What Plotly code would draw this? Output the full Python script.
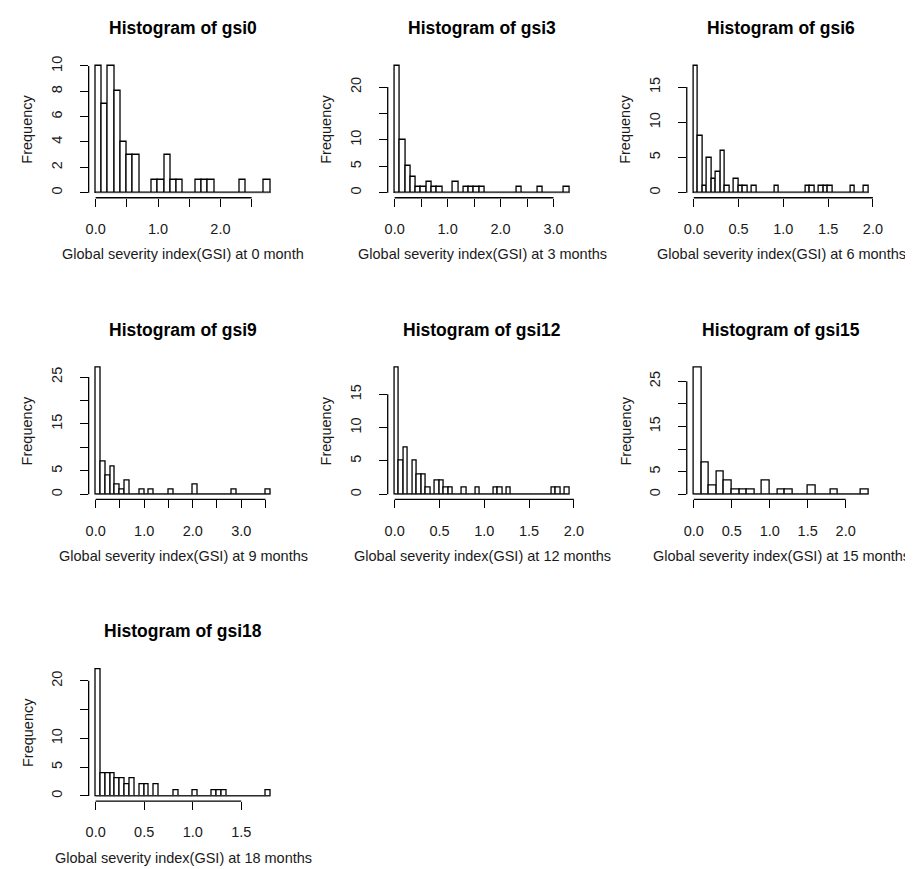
import plotly.graph_objects as go

# ---------------- data ----------------
names = ["gsi0", "gsi3", "gsi6", "gsi9", "gsi12", "gsi15", "gsi18"]
xlabels = [
    "Global severity index(GSI) at 0 month",
    "Global severity index(GSI) at 3 months",
    "Global severity index(GSI) at 6 months",
    "Global severity index(GSI) at 9 months",
    "Global severity index(GSI) at 12 months",
    "Global severity index(GSI) at 15 months",
    "Global severity index(GSI) at 18 months",
]
bin_widths = [0.1, 0.1, 0.05, 0.1, 0.05, 0.1, 0.05]

gsi0_counts = [10, 7, 10, 8, 4, 3, 3, 0, 0, 1, 1, 3, 1, 1, 0, 0, 1, 1, 1, 0,
               0, 0, 0, 1, 0, 0, 0, 1]
gsi3_counts = [24, 10, 5, 3, 1, 1, 2, 1, 1, 0, 0, 2, 0, 1, 1, 1, 1, 0, 0, 0,
               0, 0, 0, 1, 0, 0, 0, 1, 0, 0, 0, 0, 1]
gsi6_counts = [18, 8, 1, 5, 2, 3, 6, 1, 0, 2, 1, 1, 0, 1, 0, 0, 0, 0, 1, 0,
               0, 0, 0, 0, 0, 1, 1, 0, 1, 1, 1, 0, 0, 0, 0, 1, 0, 0, 1]
gsi9_counts = [27, 7, 4, 6, 2, 1, 3, 0, 0, 1, 0, 1, 0, 0, 0, 1, 0, 0, 0, 0,
               2, 0, 0, 0, 0, 0, 0, 0, 1, 0, 0, 0, 0, 0, 0, 1]
gsi12_counts = [19, 5, 7, 0, 5, 3, 3, 1, 0, 2, 2, 1, 1, 0, 0, 1, 0, 0, 1, 0,
                0, 0, 1, 1, 0, 1, 0, 0, 0, 0, 0, 0, 0, 0, 0, 1, 1, 0, 1]
gsi15_counts = [28, 7, 2, 5, 3, 1, 1, 1, 0, 3, 0, 1, 1, 0, 0, 2, 0, 0, 1, 0,
                0, 0, 1]
gsi18_counts = [22, 4, 4, 4, 3, 3, 2, 3, 0, 2, 2, 0, 2, 0, 0, 0, 1, 0, 0, 0,
                1, 0, 0, 0, 1, 1, 1, 0, 0, 0, 0, 0, 0, 0, 0, 1]
all_counts = [gsi0_counts, gsi3_counts, gsi6_counts, gsi9_counts,
              gsi12_counts, gsi15_counts, gsi18_counts]

x_tickvals = [
    [0, 0.5, 1.0, 1.5, 2.0, 2.5],
    [0, 0.5, 1.0, 1.5, 2.0, 2.5, 3.0],
    [0, 0.5, 1.0, 1.5, 2.0],
    [0, 0.5, 1.0, 1.5, 2.0, 2.5, 3.0, 3.5],
    [0, 0.5, 1.0, 1.5, 2.0],
    [0, 0.5, 1.0, 1.5, 2.0],
    [0, 0.5, 1.0, 1.5],
]
x_ticktext = [
    ["0.0", "", "1.0", "", "2.0", ""],
    ["0.0", "", "1.0", "", "2.0", "", "3.0"],
    ["0.0", "0.5", "1.0", "1.5", "2.0"],
    ["0.0", "", "1.0", "", "2.0", "", "3.0", ""],
    ["0.0", "0.5", "1.0", "1.5", "2.0"],
    ["0.0", "0.5", "1.0", "1.5", "2.0"],
    ["0.0", "0.5", "1.0", "1.5"],
]
y_tickvals = [
    [0, 2, 4, 6, 8, 10],
    [0, 5, 10, 15, 20],
    [0, 5, 10, 15],
    [0, 5, 10, 15, 20, 25],
    [0, 5, 10, 15],
    [0, 5, 10, 15, 20, 25],
    [0, 5, 10, 15, 20],
]
y_ticktext = [
    ["0", "2", "4", "6", "8", "10"],
    ["0", "5", "10", "", "20"],
    ["0", "5", "10", "15"],
    ["0", "5", "", "15", "", "25"],
    ["0", "5", "10", "15"],
    ["0", "5", "", "15", "", "25"],
    ["0", "5", "10", "", "20"],
]

# ---------------- layout geometry (pixels) ----------------
W, H = 913, 869
PLOT_L0, COL_STEP, PLOT_W = 78.6, 302.7, 191.0
PLOT_T0, ROW_STEP, PLOT_H = 48.2, 303.4, 137.6
FONT = "Liberation Sans, Arial, Helvetica, sans-serif"
TXT = "#1a1a1a"
LAB_SIZE = 14.5
TITLE_SIZE = 17.5
LW = 1.3


def fx(p):
    return p / W


def fy(p):
    return 1 - p / H


fig = go.Figure()
annotations = []
shapes = []

for i, name in enumerate(names):
    r, c = divmod(i, 3)
    left = PLOT_L0 + COL_STEP * c
    top = PLOT_T0 + ROW_STEP * r
    right = left + PLOT_W
    bottom = top + PLOT_H

    counts = all_counts[i]
    bw = bin_widths[i]
    nb = len(counts)
    edges = [round(k * bw, 4) for k in range(nb + 1)]
    centers = [(edges[k] + edges[k + 1]) / 2 for k in range(nb)]
    xmin, xmax = edges[0], edges[-1]
    xpad = 0.04 * (xmax - xmin)
    ymax = max(counts)
    ypad = 0.04 * ymax

    ax = "" if i == 0 else str(i + 1)
    xa, ya = "x" + ax, "y" + ax

    fig.add_trace(go.Scatter(
        x=[xmin, xmax], y=[0, 0], mode="lines",
        line=dict(color="#555555", width=1),
        xaxis=xa, yaxis=ya, showlegend=False, hoverinfo="skip"))
    fig.add_trace(go.Bar(
        x=centers, y=counts, width=[bw] * nb,
        marker=dict(color="white", line=dict(color="black", width=LW)),
        xaxis=xa, yaxis=ya, showlegend=False))

    common = dict(showgrid=False, zeroline=False, showline=False,
                  ticks="outside", ticklen=8, tickwidth=LW, tickcolor="black",
                  tickfont=dict(family=FONT, size=LAB_SIZE, color=TXT),
                  tickmode="array")
    fig.update_layout(**{
        "xaxis" + ax: dict(domain=[fx(left), fx(right)],
                           range=[xmin - xpad, xmax + xpad],
                           tickvals=x_tickvals[i], ticktext=x_ticktext[i],
                           anchor=ya, ticklabelstandoff=10, **common),
        "yaxis" + ax: dict(domain=[fy(bottom), fy(top)],
                           range=[-ypad, ymax + ypad],
                           tickvals=y_tickvals[i], ticktext=y_ticktext[i],
                           tickangle=-90, anchor=xa, ticklabelstandoff=12,
                           **common),
    })

    # R-style axis lines spanning first to last tick only
    shapes.append(dict(type="line", xref=xa, yref=ya + " domain",
                       x0=x_tickvals[i][0], x1=x_tickvals[i][-1], y0=0, y1=0,
                       line=dict(color="black", width=LW)))
    shapes.append(dict(type="line", xref=xa + " domain", yref=ya,
                       x0=0, x1=0, y0=y_tickvals[i][0], y1=y_tickvals[i][-1],
                       line=dict(color="black", width=LW)))

    cx = (left + right) / 2
    cy = (top + bottom) / 2
    annotations.append(dict(text="<b>Histogram of %s</b>" % name,
                            x=fx(cx), y=fy(top - 33), xref="paper", yref="paper",
                            showarrow=False, xanchor="center", yanchor="middle",
                            font=dict(family=FONT, size=TITLE_SIZE, color="black")))
    annotations.append(dict(text=xlabels[i], x=fx(cx), y=fy(bottom + 57),
                            xref="paper", yref="paper", showarrow=False,
                            xanchor="center", yanchor="middle",
                            font=dict(family=FONT, size=LAB_SIZE, color=TXT)))
    annotations.append(dict(text="Frequency", x=fx(left - 62), y=fy(cy),
                            xref="paper", yref="paper", showarrow=False,
                            xanchor="center", yanchor="middle", textangle=-90,
                            font=dict(family=FONT, size=LAB_SIZE, color=TXT)))

fig.update_layout(width=W, height=H, margin=dict(l=0, r=0, t=0, b=0),
                  paper_bgcolor="white", plot_bgcolor="white",
                  bargap=0, annotations=annotations, shapes=shapes,
                  showlegend=False)

fig.write_html("out.html")
